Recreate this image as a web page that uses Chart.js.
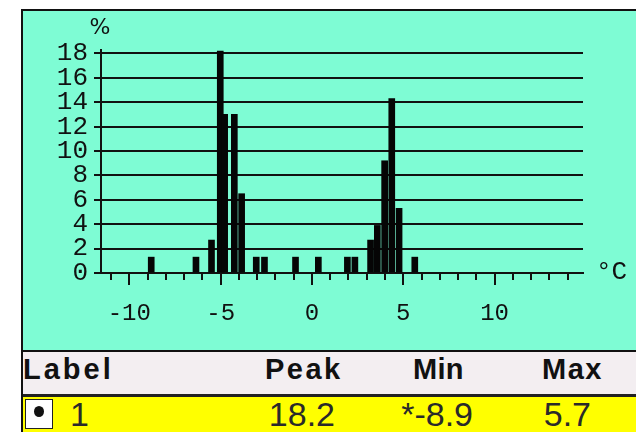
<!DOCTYPE html>
<html><head><meta charset="utf-8">
<script src="https://cdn.jsdelivr.net/npm/chart.js@4/dist/chart.umd.min.js"></script>
<style>
html,body{margin:0;padding:0;background:#fff;width:636px;height:432px;overflow:hidden;}
#panel{position:absolute;left:21px;top:9px;width:615px;height:423px;border-left:2px solid #111;border-top:2px solid #111;box-sizing:border-box;background:#7efcd4;}
#hdr{position:absolute;left:23px;top:350px;width:613px;height:47px;background:#f3eef1;border-top:2px solid #111;border-bottom:3px solid #222;box-sizing:border-box;}
#row{position:absolute;left:23px;top:397px;width:613px;height:35px;background:#ffff00;}
#chart{position:absolute;left:0;top:0;}
.t{position:absolute;white-space:nowrap;}
.h{font-family:'Liberation Sans',Arial,sans-serif;font-weight:bold;font-size:29px;line-height:29px;color:#111;top:355px;}
.v{font-family:'Liberation Sans Narrow','Liberation Sans',sans-serif;font-size:34px;line-height:34px;color:#2a2a2a;top:397px;}
#box{position:absolute;left:25px;top:399px;width:28px;height:30px;background:#fff;border:1px solid #222;box-sizing:border-box;}
#dot{position:absolute;left:34px;top:406px;width:10px;height:11px;border-radius:50%;background:#111;}
</style></head>
<body>
<div id="panel"></div>
<div id="hdr"></div>
<div id="row"></div>
<div id="box"></div><div id="dot"></div>
<div id="texts"></div>
<canvas id="chart" width="636" height="350"></canvas>
<script>
// Histogram values
const temperatures = [-8.8, -6.35, -5.5, -5.02, -4.78, -4.25, -3.85, -3.05, -2.6, -0.9, 0.35, 1.94, 2.35, 3.21, 3.58, 3.98, 4.37, 4.77, 5.63];
const percents     = [1.3, 1.3, 2.7, 18.2, 13.0, 13.0, 6.5, 1.3, 1.3, 1.3, 1.3, 1.3, 1.3, 2.7, 3.9, 9.2, 14.3, 5.3, 1.3];
const yTickValues = [0, 2, 4, 6, 8, 10, 12, 14, 16, 18];
const xTickValues = [-10, -5, 0, 5, 10];
const xMinorTickValues = [-11,-10,-9,-8,-7,-6,-5,-4,-3,-2,-1,0,1,2,3,4,5,6,7,8,9,10,11,12,13,14];
const yUnit = '%';
const xUnit = '°C';
const tableHeaders = ['Label', 'Peak', 'Min', 'Max'];
const tableRow = ['1', '18.2', '*-8.9', '5.7'];

// table text
const texts = document.getElementById('texts');
const hdrLeft = [23, 265, 413, 542];
const hdrSpacing = [3, 2.5, 0.3, 1.5];
tableHeaders.forEach((s, i) => {
  const d = document.createElement('div');
  d.className = 't h'; d.textContent = s; d.style.left = hdrLeft[i] + 'px';
  d.style.letterSpacing = hdrSpacing[i] + 'px';
  texts.appendChild(d);
});
const rowPos = [{left:70}, {right:636-335}, {right:636-473}, {right:636-591}];
tableRow.forEach((s, i) => {
  const d = document.createElement('div');
  d.className = 't v'; d.textContent = s;
  const p = rowPos[i];
  if (p.left !== undefined) d.style.left = p.left + 'px'; else d.style.right = p.right + 'px';
  texts.appendChild(d);
});

const xTickFont = {family: "'Liberation Mono', 'DejaVu Sans Mono', monospace", size: 24};
const yTickFont = {family: "'Liberation Mono', 'DejaVu Sans Mono', monospace", size: 26};
const ink = '#111';

const axisDecor = {
  id: 'axisDecor',
  afterDraw(chart) {
    const {ctx, chartArea, scales: {x}} = chart;
    ctx.save();
    ctx.strokeStyle = ink; ctx.lineWidth = 2;
    xMinorTickValues.forEach(v => {
      const px = Math.round(x.getPixelForValue(v));
      const len = (v % 5 === 0) ? 12 : 7;
      ctx.beginPath(); ctx.moveTo(px, chartArea.bottom); ctx.lineTo(px, chartArea.bottom + len); ctx.stroke();
    });
    ctx.fillStyle = ink;
    ctx.textBaseline = 'middle';
    ctx.font = "22px 'DejaVu Sans'";
    ctx.textAlign = 'center';
    ctx.fillText(yUnit, 100, 28);
    ctx.font = "26px 'Liberation Mono'";
    ctx.textAlign = 'left';
    ctx.fillText(xUnit, 596, 272);
    ctx.restore();
  }
};

new Chart(document.getElementById('chart'), {
  type: 'bar',
  data: {
    datasets: [{
      data: temperatures.map((t, i) => ({x: t, y: percents[i]})),
      backgroundColor: '#050505',
      borderWidth: 0,
      barThickness: 6
    }]
  },
  options: {
    responsive: false,
    animation: false,
    events: [],
    layout: {padding: {top: 50, right: 53, bottom: 0, left: 0}},
    plugins: {legend: {display: false}, tooltip: {enabled: false}},
    scales: {
      x: {
        type: 'linear', min: -11.55, max: 14.84, offset: false,
        afterBuildTicks: s => { s.ticks = xTickValues.map(v => ({value: v})); },
        afterFit: s => { s.height = 77; },
        grid: {display: false, drawTicks: false, offset: false},
        border: {display: true, color: ink, width: 2},
        ticks: {font: xTickFont, color: ink, padding: 26, maxRotation: 0, autoSkip: false, callback: v => String(v)}
      },
      y: {
        min: 0, max: 18.28,
        afterBuildTicks: s => { s.ticks = yTickValues.map(v => ({value: v})); },
        afterFit: s => { s.width = 101; },
        grid: {color: ink, lineWidth: 2, tickLength: 7, drawTicks: true},
        border: {display: true, color: ink, width: 2},
        ticks: {font: yTickFont, color: ink, padding: 6, autoSkip: false, callback: v => String(v)}
      }
    }
  },
  plugins: [axisDecor]
});
</script>
</body></html>
